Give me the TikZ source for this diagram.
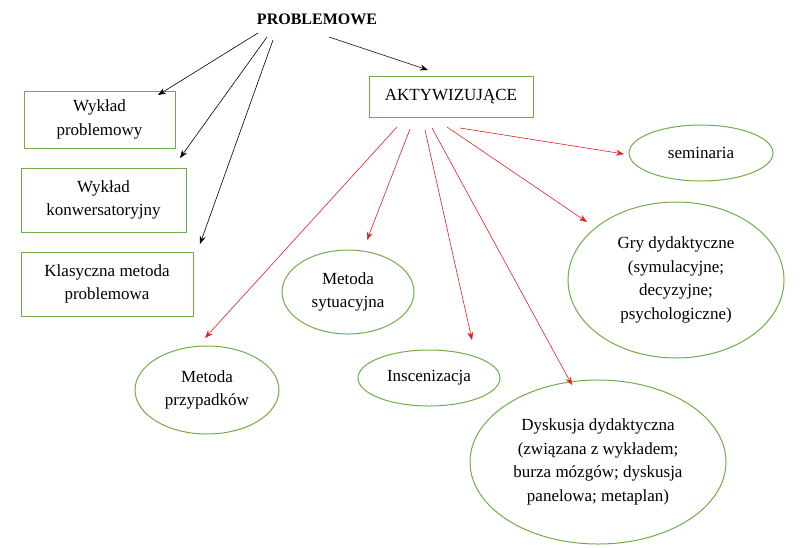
\documentclass[tikz,border=0pt]{standalone}
\usepackage{fontspec}
\setmainfont{Liberation Serif}
\usetikzlibrary{arrows.meta,shapes.geometric}
\definecolor{gr}{HTML}{70AD47}
\definecolor{rd}{HTML}{E02020}
\begin{document}
\begin{tikzpicture}[x=1pt,y=-1pt,
 every node/.style={font=\fontsize{17}{23.5}\selectfont,align=center},
 bx/.style={draw=gr,line width=1pt,rectangle,inner sep=0},
 el/.style={draw=gr,line width=1pt,ellipse,inner sep=0},
 blk/.style={-{Stealth[length=8pt,width=6pt]},black,line width=0.6pt},
 red/.style={-{Stealth[length=8pt,width=6pt]},rd,line width=0.6pt}]
\useasboundingbox (0,0) rectangle (800,547);
\node[font=\fontsize{16}{19}\selectfont\bfseries] (p) at (317,19) {PROBLEMOWE};
\node[bx,minimum width=151,minimum height=57] (w1) at (99.5,119.5) {Wykład\\problemowy};
\node[bx,minimum width=165,minimum height=64] (w2) at (103.5,200) {Wykład\\konwersatoryjny};
\node[bx,minimum width=172,minimum height=64] (w3) at (107,284) {Klasyczna metoda\\problemowa};
\node[bx,minimum width=164,minimum height=41] (a) at (451,96.5) {AKTYWIZUJĄCE};
\node[el,minimum width=144,minimum height=56] (s) at (701,153) {seminaria};
\node[el,minimum width=216,minimum height=156] (g) at (676,280) {Gry dydaktyczne\\(symulacyjne;\\decyzyjne;\\psychologiczne)};
\node[el,minimum width=132,minimum height=84] (ms) at (348,292) {Metoda\\sytuacyjna};
\node[el,minimum width=142,minimum height=56] (i) at (429,378) {Inscenizacja};
\node[el,minimum width=144,minimum height=88] (mp) at (207,390) {Metoda\\przypadków};
\node[el,minimum width=256,minimum height=164] (d) at (598,462) {Dyskusja dydaktyczna\\(związana z wykładem;\\burza mózgów; dyskusja\\panelowa; metaplan)};
\coordinate (e1) at (158,95); \coordinate (e2) at (180,158); \coordinate (e3) at (200,244); \coordinate (e4) at (428,70);
\draw[blk] (258,33) -- (e1);
\draw[blk] (267,37) -- (e2);
\draw[blk] (273,40) -- (e3);
\draw[blk] (329,37) -- (e4);
\coordinate (r1) at (205,338); \coordinate (r2) at (367,240); \coordinate (r3) at (472,340);
\coordinate (r4) at (572,385); \coordinate (r5) at (587,222); \coordinate (r6) at (624,154);
\draw[red] (397,127) -- (r1);
\draw[red] (410,129) -- (r2);
\draw[red] (425,130) -- (r3);
\draw[red] (432,128) -- (r4);
\draw[red] (447,127) -- (r5);
\draw[red] (460,128) -- (r6);
\end{tikzpicture}
\end{document}
